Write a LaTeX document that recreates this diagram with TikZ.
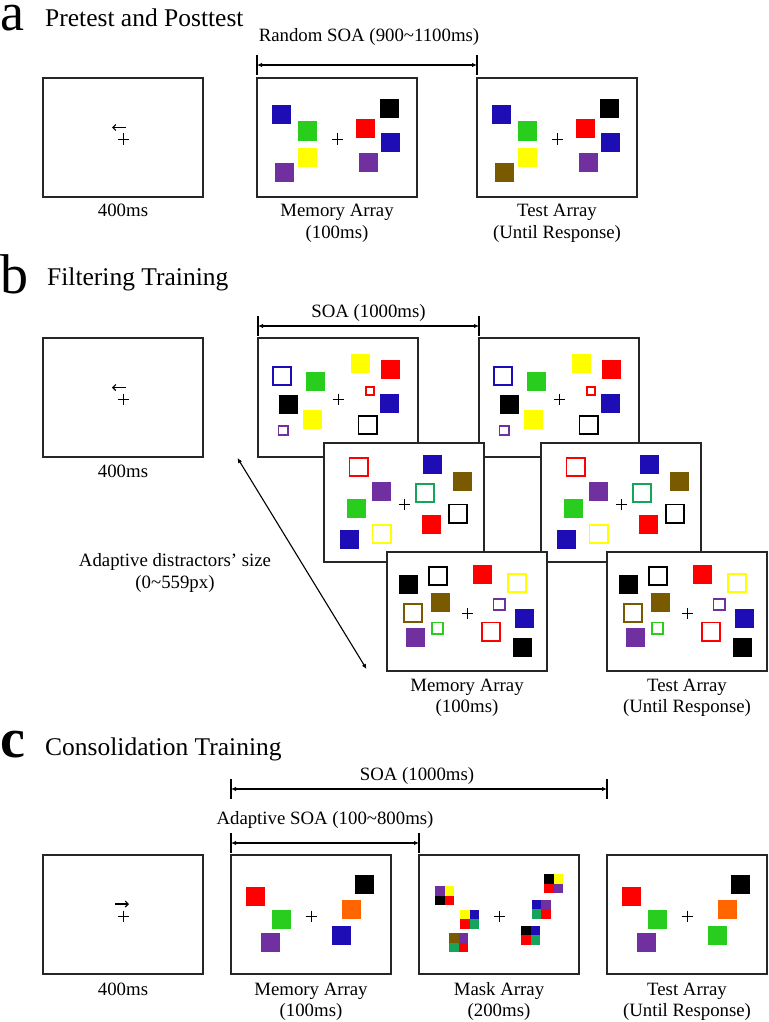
\documentclass[tikz,border=0pt]{standalone}
\usepackage{fontspec}
\setmainfont{Liberation Serif}
\usetikzlibrary{arrows.meta}
\definecolor{cblue}{RGB}{30,12,180}
\definecolor{cgreen}{RGB}{40,205,30}
\definecolor{cyellow}{RGB}{255,255,0}
\definecolor{cred}{RGB}{255,0,0}
\definecolor{cpurple}{RGB}{112,48,160}
\definecolor{cbrown}{RGB}{122,90,0}
\definecolor{corange}{RGB}{255,102,0}
\definecolor{cteal}{RGB}{20,165,90}
\definecolor{cblack}{RGB}{0,0,0}
\newcommand\fsq[3]{\fill[#3] (#1,#2) rectangle ++(19,19);}
\newcommand\osq[4]{\draw[#4,line width=1.6pt] ({#1+0.8},{#2+0.8}) rectangle ++({#3-1.6},{#3-1.6});}
\newcommand\msk[6]{\fill[#3] (#1,#2) rectangle ++(9.5,9.5);
  \fill[#4] ({#1+9.5},#2) rectangle ++(9.5,9.5);
  \fill[#5] (#1,{#2+9.5}) rectangle ++(9.5,9.5);
  \fill[#6] ({#1+9.5},{#2+9.5}) rectangle ++(9.5,9.5);}
\newcommand\fixc{\draw[crossln] (74.5,61) -- (85.5,61) (80,55.5) -- (80,66.5);}
\newcommand\cueL{\draw[cue] (83,49.5) -- (69,49.5);}
\newcommand\cueR{\draw[cue] (72,49) -- (86,49);}
\newcommand\stimbox[4]{\node[frame] (#1) at (#2,#3) {};
  \begin{scope}[shift={(#2,#3)}] #4 \end{scope}}
\tikzset{
  frame/.style={draw=black!85, line width=1.4pt, fill=white, minimum width=160pt,
    minimum height=119pt, inner sep=0pt, outer sep=0pt, anchor=north west},
  lbl/.style={font=\fontsize{18.8}{22}\selectfont, anchor=base, inner sep=0pt},
  ttl/.style={font=\fontsize{25.5}{30}\selectfont, anchor=base west, inner sep=0pt},
  plet/.style={font=\fontsize{56}{56}\selectfont, anchor=base west, inner sep=0pt},
  soa/.style={line width=1.1pt, {Latex[length=5pt,width=4.5pt]}-{Latex[length=5pt,width=4.5pt]}},
  tick/.style={line width=1.1pt},
  crossln/.style={line width=0.9pt},
  cue/.style={line width=1.1pt, -{Straight Barb[length=3pt,width=6pt]}},
}
\begin{document}
\begin{tikzpicture}[x=1pt,y=-1pt]
\fill[white] (0,0) rectangle (768,1022);
\useasboundingbox (0,0) rectangle (768,1022);

% ---------------- Panel a ----------------
\node[plet, font=\fontsize{54}{54}\selectfont] (la) at (0,31) {a};
\node[ttl] (ta) at (45,26.5) {Pretest and Posttest};
\node[lbl] (ra) at (369,42) {Random SOA (900\textasciitilde 1100ms)};
\coordinate (a-s) at (257,65);
\coordinate (a-e) at (477,65);
\draw[soa] (a-s) -- (a-e);
\draw[tick] (a-s) ++(0,-10) -- ++(0,20);
\draw[tick] (a-e) ++(0,-10) -- ++(0,20);

\stimbox{a1}{43}{78}{\cueL\fixc}
\stimbox{a2}{257}{78}{%
  \fsq{15}{27}{cblue}\fsq{41}{43.5}{cgreen}\fsq{41}{70}{cyellow}\fsq{17.5}{85}{cpurple}
  \fsq{99}{41}{cred}\fsq{123}{21}{cblack}\fsq{124}{55}{cblue}\fsq{102}{75}{cpurple}\fixc}
\stimbox{a3}{477}{78}{%
  \fsq{15}{27}{cblue}\fsq{41}{43.5}{cgreen}\fsq{41}{70}{cyellow}\fsq{17.5}{85}{cbrown}
  \fsq{99}{41}{cred}\fsq{123}{21}{cblack}\fsq{124}{55}{cblue}\fsq{102}{75}{cpurple}\fixc}
\node[lbl] (a1l) at (123,216.5) {400ms};
\node[lbl] (a2l) at (337,216.5) {Memory Array};
\node[lbl] (a2m) at (337,238) {(100ms)};
\node[lbl] (a3l) at (557,216.5) {Test Array};
\node[lbl] (a3m) at (557,238) {(Until Response)};

% ---------------- Panel b ----------------
\node[plet] (lb) at (0,293) {b};
\node[ttl] (tb) at (47,285) {Filtering Training};
\node[lbl] (rb) at (368.5,317.5) {SOA (1000ms)};
\coordinate (b-s) at (258,326);
\coordinate (b-e) at (479,326);
\draw[soa] (b-s) -- (b-e);
\draw[tick] (b-s) ++(0,-10) -- ++(0,20);
\draw[tick] (b-e) ++(0,-10) -- ++(0,20);

\stimbox{b0}{43}{338}{\cueL\fixc}
\node[lbl] (b0l) at (123,477.5) {400ms};

\stimbox{bm1}{258}{338}{%
  \osq{14}{28}{20}{cblue}\fsq{48}{34}{cgreen}\fsq{21}{57}{cblack}\fsq{45}{72}{cyellow}
  \osq{19.5}{87}{11}{cpurple}\fsq{93}{16}{cyellow}\fsq{123}{22}{cred}
  \osq{107}{48}{10}{cred}\fsq{122}{56}{cblue}\osq{99.5}{77}{20}{cblack}\fixc}
\stimbox{bt1}{479}{338}{%
  \osq{14}{28}{20}{cblue}\fsq{48}{34}{cgreen}\fsq{21}{57}{cblack}\fsq{45}{72}{cyellow}
  \osq{19.5}{87}{11}{cpurple}\fsq{93}{16}{cyellow}\fsq{123}{22}{cred}
  \osq{107}{48}{10}{cred}\fsq{122}{56}{cblue}\osq{99.5}{77}{20}{cblack}\fixc}
\stimbox{bm2}{324}{443}{%
  \osq{24.5}{14}{20}{cred}\fsq{48}{39}{cpurple}\fsq{22.5}{56}{cgreen}\fsq{16}{87}{cblue}
  \osq{47.5}{81}{20}{cyellow}\osq{91}{40}{20}{cteal}\fsq{99}{11.5}{cblue}
  \fsq{128.5}{29}{cbrown}\osq{124}{60.5}{20}{cblack}\fsq{98}{72}{cred}\fixc}
\stimbox{bt2}{541}{443}{%
  \osq{24.5}{14}{20}{cred}\fsq{48}{39}{cpurple}\fsq{22.5}{56}{cgreen}\fsq{16}{87}{cblue}
  \osq{47.5}{81}{20}{cyellow}\osq{91}{40}{20}{cteal}\fsq{99}{11.5}{cblue}
  \fsq{128.5}{29}{cbrown}\osq{124}{60.5}{20}{cblack}\fsq{98}{72}{cred}\fixc}
\stimbox{bm3}{387}{552}{%
  \fsq{12}{23}{cblack}\osq{41}{14}{20}{cblack}\osq{16}{51}{20}{cbrown}\fsq{44}{41}{cbrown}
  \osq{44}{69.5}{13}{cgreen}\fsq{19}{76}{cpurple}\fsq{86}{13}{cred}\osq{120}{21}{20}{cyellow}
  \osq{105.5}{46}{13}{cpurple}\osq{94}{69.5}{20}{cred}\fsq{128}{57}{cblue}\fsq{125.5}{86}{cblack}\fixc}
\stimbox{bt3}{607}{552}{%
  \fsq{12}{23}{cblack}\osq{41}{14}{20}{cblack}\osq{16}{51}{20}{cbrown}\fsq{44}{41}{cbrown}
  \osq{44}{69.5}{13}{cgreen}\fsq{19}{76}{cpurple}\fsq{86}{13}{cred}\osq{120}{21}{20}{cyellow}
  \osq{105.5}{46}{13}{cpurple}\osq{94}{69.5}{20}{cred}\fsq{128}{57}{cblue}\fsq{125.5}{86}{cblack}\fixc}
\node[lbl] (bml) at (467,691) {Memory Array};
\node[lbl] (bmm) at (467,712.5) {(100ms)};
\node[lbl] (btl) at (687,691) {Test Array};
\node[lbl] (btm) at (687,712.5) {(Until Response)};

\coordinate (d1) at (237.5,458);
\coordinate (d2) at (366.5,669);
\draw[soa] (d1) -- (d2);
\node[lbl] (ad1) at (175,566) {Adaptive distractors’ size};
\node[lbl] (ad2) at (175,588) {(0\textasciitilde 559px)};

% ---------------- Panel c ----------------
\node[plet, font=\fontsize{56}{56}\selectfont\bfseries] (lc) at (0,757) {c};
\node[ttl] (tc) at (45,755) {Consolidation Training};
\node[lbl] (rc1) at (417,780) {SOA (1000ms)};
\coordinate (c-s) at (231,789);
\coordinate (c-e) at (607,789);
\draw[soa] (c-s) -- (c-e);
\draw[tick] (c-s) ++(0,-10) -- ++(0,20);
\draw[tick] (c-e) ++(0,-10) -- ++(0,20);
\node[lbl] (rc2) at (325,824) {Adaptive SOA (100\textasciitilde 800ms)};
\coordinate (c-s2) at (231,843);
\coordinate (c-e2) at (419,843);
\draw[soa] (c-s2) -- (c-e2);
\draw[tick] (c-s2) ++(0,-10) -- ++(0,20);
\draw[tick] (c-e2) ++(0,-10) -- ++(0,20);

\stimbox{c1}{43}{855}{\cueR\fixc}
\stimbox{c2}{231}{855}{%
  \fsq{15}{31.5}{cred}\fsq{40.5}{55}{cgreen}\fsq{30}{78}{cpurple}
  \fsq{124}{20}{cblack}\fsq{111}{45}{corange}\fsq{101}{71}{cblue}\fixc}
\stimbox{c3}{419}{855}{%
  \msk{16}{31}{cpurple}{cyellow}{cblack}{cred}
  \msk{41}{54.5}{cyellow}{cblue}{cred}{cteal}
  \msk{30}{78}{cbrown}{cpurple}{cteal}{cred}
  \msk{125}{19}{cblack}{cyellow}{cred}{cpurple}
  \msk{112.5}{44.5}{cblue}{cpurple}{cteal}{cred}
  \msk{102}{70.5}{cblack}{cblue}{cred}{cteal}\fixc}
\stimbox{c4}{607}{855}{%
  \fsq{15}{31.5}{cred}\fsq{40.5}{55}{cgreen}\fsq{30}{78}{cpurple}
  \fsq{124}{20}{cblack}\fsq{111}{45}{corange}\fsq{101}{71}{cgreen}\fixc}
\node[lbl] (c1l) at (123,995) {400ms};
\node[lbl] (c2l) at (311,995) {Memory Array};
\node[lbl] (c2m) at (311,1016.5) {(100ms)};
\node[lbl] (c3l) at (499,995) {Mask Array};
\node[lbl] (c3m) at (499,1016.5) {(200ms)};
\node[lbl] (c4l) at (687,995) {Test Array};
\node[lbl] (c4m) at (687,1016.5) {(Until Response)};
\end{tikzpicture}
\end{document}
